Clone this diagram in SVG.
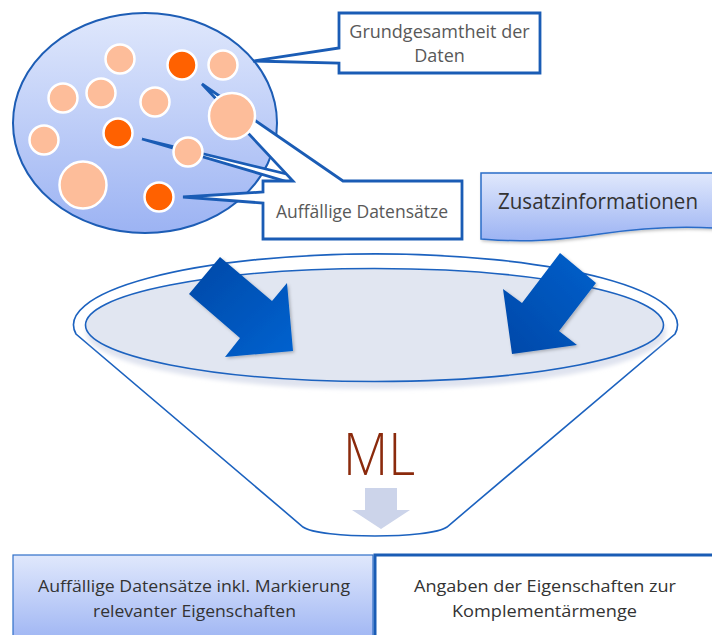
<svg xmlns="http://www.w3.org/2000/svg" width="712" height="635" viewBox="0 0 712 635">
<defs>
<linearGradient id="gBlue" x1="0" y1="0" x2="0" y2="1">
<stop offset="0" stop-color="#e0e8fc"/>
<stop offset="1" stop-color="#9cb3f3"/>
</linearGradient>
<linearGradient id="gArrowL" x1="0" y1="0" x2="1" y2="1">
<stop offset="0" stop-color="#0048a6"/>
<stop offset="1" stop-color="#0062d0"/>
</linearGradient>
<linearGradient id="gArrowR" x1="1" y1="0" x2="0" y2="1">
<stop offset="0" stop-color="#0060cc"/>
<stop offset="1" stop-color="#0048a8"/>
</linearGradient>
<filter id="shadow" x="-20%" y="-20%" width="140%" height="140%">
<feDropShadow dx="1.5" dy="1.5" stdDeviation="1.5" flood-color="#000" flood-opacity="0.25"/>
</filter>
<filter id="blur"><feGaussianBlur stdDeviation="2"/></filter>
</defs>
<style>
.lbl{font-family:"Open Sans","Noto Sans","Liberation Sans",sans-serif;}
.gray{fill:#595959;font-size:18px;}
.dark{fill:#333333;}
.small{font-size:17px;}
.callout{fill:#ffffff;stroke:#1a5cb5;stroke-width:2.8;stroke-linejoin:miter;}
.light{fill:#fdbd9a;stroke:#ffffff;stroke-width:2.5;}
.hot{fill:#ff6100;stroke:#ffffff;stroke-width:2.5;}
.fun{stroke:#1c62bf;stroke-width:1.6;}
</style>

<g id="population">
<ellipse cx="145" cy="123" rx="132" ry="110" fill="url(#gBlue)" stroke="#1d5db5" stroke-width="2"/>
</g>

<g id="callout-grundgesamtheit">
<path class="callout" d="M339,13 H540 V73 H339 V63 L253,61 L339,48 Z"/>
<text class="lbl gray" x="439.5" y="38" text-anchor="middle">Grundgesamtheit der</text>
<text class="lbl gray" x="439.5" y="62" text-anchor="middle">Daten</text>
</g>

<g id="callout-auffaellig">
<path class="callout" d="M142,139 L295,184 L328,184 Z"/>
<path class="callout" d="M263,181 H293 L202,84 L343,181 H462 V239 H263 V203 L183,197 L263,192 Z"/>
<text class="lbl gray" x="362" y="218" text-anchor="middle" textLength="172" lengthAdjust="spacingAndGlyphs">Auffällige Datensätze</text>
</g>

<g id="datapoints">
<circle class="light" cx="120" cy="59" r="14.5"/>
<circle class="hot" cx="182" cy="65" r="14.5"/>
<circle class="light" cx="223" cy="65" r="14.5"/>
<circle class="light" cx="63" cy="98" r="14.5"/>
<circle class="light" cx="101" cy="93" r="14.5"/>
<circle class="light" cx="155" cy="102" r="14.5"/>
<circle class="light" cx="232" cy="116" r="23"/>
<circle class="hot" cx="118" cy="133" r="14.5"/>
<circle class="light" cx="44" cy="140" r="14.5"/>
<circle class="light" cx="188" cy="152" r="14.5"/>
<circle class="light" cx="83" cy="185" r="23.5"/>
<circle class="hot" cx="159" cy="197" r="14.5"/>
</g>

<g id="zusatzinformationen">
<path d="M481,173 H714 V228 C680,226 640,228 600,234 C560,240 525,243 481,239 Z" fill="url(#gBlue)" stroke="#2a6cc8" stroke-width="1.5" filter="url(#shadow)"/>
<text class="lbl dark" x="498" y="209" font-size="21" textLength="200" lengthAdjust="spacingAndGlyphs">Zusatzinformationen</text>
</g>

<g id="funnel">
<path class="fun" d="M76,334 A302,71 0 1 1 675,334 L447,527 C430,539 320,539 303,527 Z" fill="#ffffff"/>
<ellipse cx="376" cy="332" rx="290" ry="57" fill="#dfe3ef" filter="url(#blur)"/>
<ellipse class="fun" cx="374.5" cy="325" rx="289" ry="56.5" fill="#e1e6f1"/>
<text x="379" y="475" text-anchor="middle" font-family="'Open Sans','Liberation Sans',sans-serif" font-weight="300" font-size="58" fill="#8b2a0c" textLength="72" lengthAdjust="spacingAndGlyphs">ML</text>
</g>

<g id="connectors">
<polygon points="220,257 272,301 287,283 293,351 225,357 240,338 189,294" fill="url(#gArrowL)" filter="url(#shadow)"/>
<polygon points="560,253 596,283 559,331 577,345 512,354 503,289 522,303" fill="url(#gArrowR)" filter="url(#shadow)"/>
<polygon points="365,488 397,488 397,510 410,510 381,529 352,510 365,510" fill="#ccd4ea"/>
</g>

<g id="result-left">
<rect x="13" y="555" width="360" height="90" fill="url(#gBlue)" stroke="#2f6fc8" stroke-width="1.2"/>
<text class="lbl dark small" x="194" y="592" text-anchor="middle" textLength="312" lengthAdjust="spacingAndGlyphs">Auffällige Datensätze inkl. Markierung</text>
<text class="lbl dark small" x="194.5" y="617" text-anchor="middle" textLength="203" lengthAdjust="spacingAndGlyphs">relevanter Eigenschaften</text>
</g>

<g id="result-right">
<rect x="375" y="555" width="345" height="90" fill="#ffffff" stroke="#1a5cb5" stroke-width="3"/>
<text class="lbl dark small" x="545" y="592" text-anchor="middle" textLength="262" lengthAdjust="spacingAndGlyphs">Angaben der Eigenschaften zur</text>
<text class="lbl dark small" x="544.5" y="617" text-anchor="middle" textLength="185" lengthAdjust="spacingAndGlyphs">Komplementärmenge</text>
</g>
</svg>
